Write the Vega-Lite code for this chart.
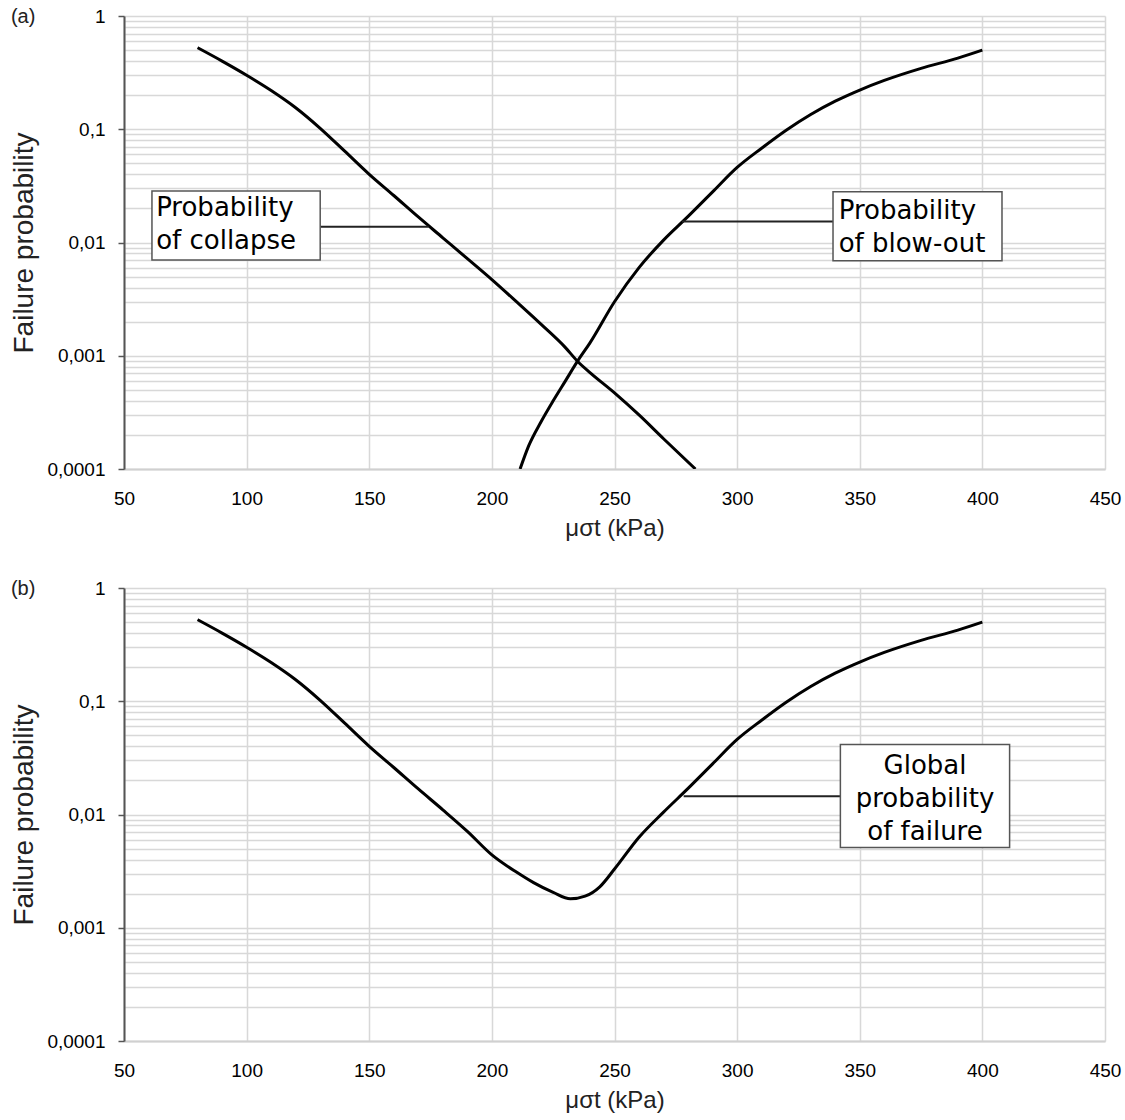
{
  "$schema": "https://vega.github.io/schema/vega-lite/v6.json",
  "background": "white",
  "padding": {"left": 10, "top": 7, "right": 5, "bottom": 5},
  "spacing": 39,
  "config": {
    "view": {"stroke": null},
    "font": "Liberation Sans",
    "axis": {"labelFont": "Liberation Sans", "titleFont": "Liberation Sans", "labelColor": "#000", "titleColor": "#222", "titleFontWeight": "normal"}
  },
  "datasets": {
    "curves": [
      {"panel": "a", "series": "collapse", "mu": 80, "p": 0.525},
      {"panel": "a", "series": "collapse", "mu": 90, "p": 0.40},
      {"panel": "a", "series": "collapse", "mu": 100, "p": 0.30},
      {"panel": "a", "series": "collapse", "mu": 110, "p": 0.22},
      {"panel": "a", "series": "collapse", "mu": 120, "p": 0.155},
      {"panel": "a", "series": "collapse", "mu": 130, "p": 0.102},
      {"panel": "a", "series": "collapse", "mu": 140, "p": 0.064},
      {"panel": "a", "series": "collapse", "mu": 150, "p": 0.040},
      {"panel": "a", "series": "collapse", "mu": 160, "p": 0.026},
      {"panel": "a", "series": "collapse", "mu": 170, "p": 0.0168},
      {"panel": "a", "series": "collapse", "mu": 180, "p": 0.011},
      {"panel": "a", "series": "collapse", "mu": 190, "p": 0.0072},
      {"panel": "a", "series": "collapse", "mu": 200, "p": 0.0047},
      {"panel": "a", "series": "collapse", "mu": 210, "p": 0.0030},
      {"panel": "a", "series": "collapse", "mu": 220, "p": 0.0019},
      {"panel": "a", "series": "collapse", "mu": 230, "p": 0.00118},
      {"panel": "a", "series": "collapse", "mu": 235, "p": 0.00089},
      {"panel": "a", "series": "collapse", "mu": 240, "p": 0.00071},
      {"panel": "a", "series": "collapse", "mu": 250, "p": 0.00047},
      {"panel": "a", "series": "collapse", "mu": 260, "p": 0.00030},
      {"panel": "a", "series": "collapse", "mu": 270, "p": 0.000185},
      {"panel": "a", "series": "collapse", "mu": 283, "p": 0.0001},
      {"panel": "a", "series": "blowout", "mu": 211.5, "p": 0.0001},
      {"panel": "a", "series": "blowout", "mu": 215, "p": 0.00016},
      {"panel": "a", "series": "blowout", "mu": 220, "p": 0.00026},
      {"panel": "a", "series": "blowout", "mu": 225, "p": 0.00040},
      {"panel": "a", "series": "blowout", "mu": 230, "p": 0.00060},
      {"panel": "a", "series": "blowout", "mu": 235, "p": 0.00090},
      {"panel": "a", "series": "blowout", "mu": 240, "p": 0.0013},
      {"panel": "a", "series": "blowout", "mu": 250, "p": 0.0030},
      {"panel": "a", "series": "blowout", "mu": 260, "p": 0.0060},
      {"panel": "a", "series": "blowout", "mu": 270, "p": 0.0105},
      {"panel": "a", "series": "blowout", "mu": 280, "p": 0.0170},
      {"panel": "a", "series": "blowout", "mu": 290, "p": 0.028},
      {"panel": "a", "series": "blowout", "mu": 300, "p": 0.046},
      {"panel": "a", "series": "blowout", "mu": 310, "p": 0.068},
      {"panel": "a", "series": "blowout", "mu": 320, "p": 0.098},
      {"panel": "a", "series": "blowout", "mu": 330, "p": 0.135},
      {"panel": "a", "series": "blowout", "mu": 340, "p": 0.177},
      {"panel": "a", "series": "blowout", "mu": 350, "p": 0.222},
      {"panel": "a", "series": "blowout", "mu": 360, "p": 0.27},
      {"panel": "a", "series": "blowout", "mu": 375, "p": 0.345},
      {"panel": "a", "series": "blowout", "mu": 390, "p": 0.425},
      {"panel": "a", "series": "blowout", "mu": 400, "p": 0.50},
      {"panel": "b", "series": "global", "mu": 80, "p": 0.525},
      {"panel": "b", "series": "global", "mu": 90, "p": 0.40},
      {"panel": "b", "series": "global", "mu": 100, "p": 0.30},
      {"panel": "b", "series": "global", "mu": 110, "p": 0.22},
      {"panel": "b", "series": "global", "mu": 120, "p": 0.155},
      {"panel": "b", "series": "global", "mu": 130, "p": 0.102},
      {"panel": "b", "series": "global", "mu": 140, "p": 0.064},
      {"panel": "b", "series": "global", "mu": 150, "p": 0.040},
      {"panel": "b", "series": "global", "mu": 160, "p": 0.026},
      {"panel": "b", "series": "global", "mu": 170, "p": 0.0168},
      {"panel": "b", "series": "global", "mu": 180, "p": 0.011},
      {"panel": "b", "series": "global", "mu": 190, "p": 0.0071},
      {"panel": "b", "series": "global", "mu": 200, "p": 0.0044},
      {"panel": "b", "series": "global", "mu": 210, "p": 0.0031},
      {"panel": "b", "series": "global", "mu": 217, "p": 0.0025},
      {"panel": "b", "series": "global", "mu": 225, "p": 0.00205},
      {"panel": "b", "series": "global", "mu": 232, "p": 0.0018},
      {"panel": "b", "series": "global", "mu": 238, "p": 0.0019},
      {"panel": "b", "series": "global", "mu": 244, "p": 0.0023},
      {"panel": "b", "series": "global", "mu": 250, "p": 0.0033},
      {"panel": "b", "series": "global", "mu": 260, "p": 0.0063},
      {"panel": "b", "series": "global", "mu": 270, "p": 0.0105},
      {"panel": "b", "series": "global", "mu": 280, "p": 0.0170},
      {"panel": "b", "series": "global", "mu": 290, "p": 0.028},
      {"panel": "b", "series": "global", "mu": 300, "p": 0.046},
      {"panel": "b", "series": "global", "mu": 310, "p": 0.068},
      {"panel": "b", "series": "global", "mu": 320, "p": 0.098},
      {"panel": "b", "series": "global", "mu": 330, "p": 0.135},
      {"panel": "b", "series": "global", "mu": 340, "p": 0.177},
      {"panel": "b", "series": "global", "mu": 350, "p": 0.222},
      {"panel": "b", "series": "global", "mu": 360, "p": 0.27},
      {"panel": "b", "series": "global", "mu": 375, "p": 0.345},
      {"panel": "b", "series": "global", "mu": 390, "p": 0.425},
      {"panel": "b", "series": "global", "mu": 400, "p": 0.50}
    ],
    "boxes": [
      {"panel": "a", "mu": 61.4, "mu2": 130, "p": 0.0285, "p2": 0.0070},
      {"panel": "a", "mu": 339.1, "mu2": 408, "p": 0.028, "p2": 0.0069},
      {"panel": "b", "mu": 342.1, "mu2": 411.1, "p": 0.0414, "p2": 0.0051}
    ],
    "connectors": [
      {"panel": "a", "mu": 130, "mu2": 174.2, "p": 0.0138},
      {"panel": "a", "mu": 277.5, "mu2": 339.1, "p": 0.0153},
      {"panel": "b", "mu": 278.2, "mu2": 342.1, "p": 0.0145}
    ],
    "notes": [
      {"panel": "a", "mu": 63.1, "p": 0.0145, "label": "Probability\nof collapse"},
      {"panel": "a", "mu": 341.4, "p": 0.0137, "label": "Probability\nof blow-out"},
      {"panel": "b", "mu": 376.6, "p": 0.0138, "label": "Global\nprobability\nof failure"}
    ]
  },
  "vconcat": [
    {
      "width": 981,
      "height": 453,
      "title": {"text": "(a)", "anchor": "start", "frame": "bounds", "offset": -20, "fontSize": 20, "fontWeight": "normal", "font": "Liberation Sans", "color": "#222"},
      "layer": [
        {
          "data": {"name": "curves"},
          "transform": [{"filter": "datum.panel == 'a'"}],
          "mark": {"type": "line", "color": "black", "strokeWidth": 3, "clip": true, "interpolate": "monotone"},
          "encoding": {
            "x": {"field": "mu", "type": "quantitative", "scale": {"domain": [50, 450], "nice": false},
              "axis": {"title": "μσt (kPa)", "titleFontSize": 24, "titlePadding": 8, "values": [50, 100, 150, 200, 250, 300, 350, 400, 450], "labelFontSize": 19, "labelPadding": 20, "ticks": false, "grid": true, "gridColor": "#d8d8d8", "gridWidth": 1.5, "domainColor": "#d0d0d0", "domainWidth": 2, "labelFlush": false, "labelOverlap": false}},
            "y": {"field": "p", "type": "quantitative", "scale": {"type": "log", "domain": [0.0001, 1], "nice": false},
              "axis": {"title": "Failure probability", "titleFontSize": 28, "titlePadding": 8,
                "values": [0.0001, 0.0002, 0.0003, 0.0004, 0.0005, 0.0006, 0.0007, 0.0008, 0.0009, 0.001, 0.002, 0.003, 0.004, 0.005, 0.006, 0.007, 0.008, 0.009, 0.01, 0.02, 0.03, 0.04, 0.05, 0.06, 0.07, 0.08, 0.09, 0.1, 0.2, 0.3, 0.4, 0.5, 0.6, 0.7, 0.8, 0.9, 1],
                "labelExpr": "indexof([1, 0.1, 0.01, 0.001, 0.0001], datum.value) >= 0 ? replace(toString(datum.value), '.', ',') : ''",
                "labelFontSize": 19, "labelPadding": 13, "labelOverlap": false, "labelFlush": false, "labelBound": false,
                "grid": true, "gridColor": "#d8d8d8", "gridWidth": 1.5,
                "tickSize": 6, "tickWidth": 1.5,
                "tickColor": {"condition": {"test": "indexof([1, 0.1, 0.01, 0.001, 0.0001], datum.value) >= 0", "value": "#555"}, "value": "transparent"},
                "domainColor": "#555", "domainWidth": 2}},
            "detail": {"field": "series"}
          }
        },
        {
          "data": {"name": "connectors"},
          "transform": [{"filter": "datum.panel == 'a'"}],
          "mark": {"type": "rule", "color": "#222", "strokeWidth": 2},
          "encoding": {
            "x": {"field": "mu", "type": "quantitative"},
            "x2": {"field": "mu2"},
            "y": {"field": "p", "type": "quantitative"}
          }
        },
        {
          "data": {"name": "boxes"},
          "transform": [{"filter": "datum.panel == 'a'"}],
          "mark": {"type": "rect", "fill": "white", "stroke": "#555", "strokeWidth": 1.5},
          "encoding": {
            "x": {"field": "mu", "type": "quantitative"},
            "x2": {"field": "mu2"},
            "y": {"field": "p", "type": "quantitative"},
            "y2": {"field": "p2"}
          }
        },
        {
          "data": {"name": "notes"},
          "transform": [{"filter": "datum.panel == 'a'"}],
          "mark": {"type": "text", "font": "DejaVu Sans", "fontSize": 26, "lineBreak": "\n", "lineHeight": 33, "align": "left", "baseline": "middle", "dy": -16.5, "color": "black"},
          "encoding": {
            "x": {"field": "mu", "type": "quantitative"},
            "y": {"field": "p", "type": "quantitative"},
            "text": {"field": "label"}
          }
        }
      ]
    },
    {
      "width": 981,
      "height": 453,
      "title": {"text": "(b)", "anchor": "start", "frame": "bounds", "offset": -20, "fontSize": 20, "fontWeight": "normal", "font": "Liberation Sans", "color": "#222"},
      "layer": [
        {
          "data": {"name": "curves"},
          "transform": [{"filter": "datum.panel == 'b'"}],
          "mark": {"type": "line", "color": "black", "strokeWidth": 3, "clip": true, "interpolate": "monotone"},
          "encoding": {
            "x": {"field": "mu", "type": "quantitative", "scale": {"domain": [50, 450], "nice": false},
              "axis": {"title": "μσt (kPa)", "titleFontSize": 24, "titlePadding": 8, "values": [50, 100, 150, 200, 250, 300, 350, 400, 450], "labelFontSize": 19, "labelPadding": 20, "ticks": false, "grid": true, "gridColor": "#d8d8d8", "gridWidth": 1.5, "domainColor": "#d0d0d0", "domainWidth": 2, "labelFlush": false, "labelOverlap": false}},
            "y": {"field": "p", "type": "quantitative", "scale": {"type": "log", "domain": [0.0001, 1], "nice": false},
              "axis": {"title": "Failure probability", "titleFontSize": 28, "titlePadding": 8,
                "values": [0.0001, 0.0002, 0.0003, 0.0004, 0.0005, 0.0006, 0.0007, 0.0008, 0.0009, 0.001, 0.002, 0.003, 0.004, 0.005, 0.006, 0.007, 0.008, 0.009, 0.01, 0.02, 0.03, 0.04, 0.05, 0.06, 0.07, 0.08, 0.09, 0.1, 0.2, 0.3, 0.4, 0.5, 0.6, 0.7, 0.8, 0.9, 1],
                "labelExpr": "indexof([1, 0.1, 0.01, 0.001, 0.0001], datum.value) >= 0 ? replace(toString(datum.value), '.', ',') : ''",
                "labelFontSize": 19, "labelPadding": 13, "labelOverlap": false, "labelFlush": false, "labelBound": false,
                "grid": true, "gridColor": "#d8d8d8", "gridWidth": 1.5,
                "tickSize": 6, "tickWidth": 1.5,
                "tickColor": {"condition": {"test": "indexof([1, 0.1, 0.01, 0.001, 0.0001], datum.value) >= 0", "value": "#555"}, "value": "transparent"},
                "domainColor": "#555", "domainWidth": 2}},
            "detail": {"field": "series"}
          }
        },
        {
          "data": {"name": "connectors"},
          "transform": [{"filter": "datum.panel == 'b'"}],
          "mark": {"type": "rule", "color": "#222", "strokeWidth": 2},
          "encoding": {
            "x": {"field": "mu", "type": "quantitative"},
            "x2": {"field": "mu2"},
            "y": {"field": "p", "type": "quantitative"}
          }
        },
        {
          "data": {"name": "boxes"},
          "transform": [{"filter": "datum.panel == 'b'"}],
          "mark": {"type": "rect", "fill": "white", "stroke": "#555", "strokeWidth": 1.5},
          "encoding": {
            "x": {"field": "mu", "type": "quantitative"},
            "x2": {"field": "mu2"},
            "y": {"field": "p", "type": "quantitative"},
            "y2": {"field": "p2"}
          }
        },
        {
          "data": {"name": "notes"},
          "transform": [{"filter": "datum.panel == 'b'"}],
          "mark": {"type": "text", "font": "DejaVu Sans", "fontSize": 26, "lineBreak": "\n", "lineHeight": 33, "align": "center", "baseline": "middle", "dy": -33, "color": "black"},
          "encoding": {
            "x": {"field": "mu", "type": "quantitative"},
            "y": {"field": "p", "type": "quantitative"},
            "text": {"field": "label"}
          }
        }
      ]
    }
  ]
}
